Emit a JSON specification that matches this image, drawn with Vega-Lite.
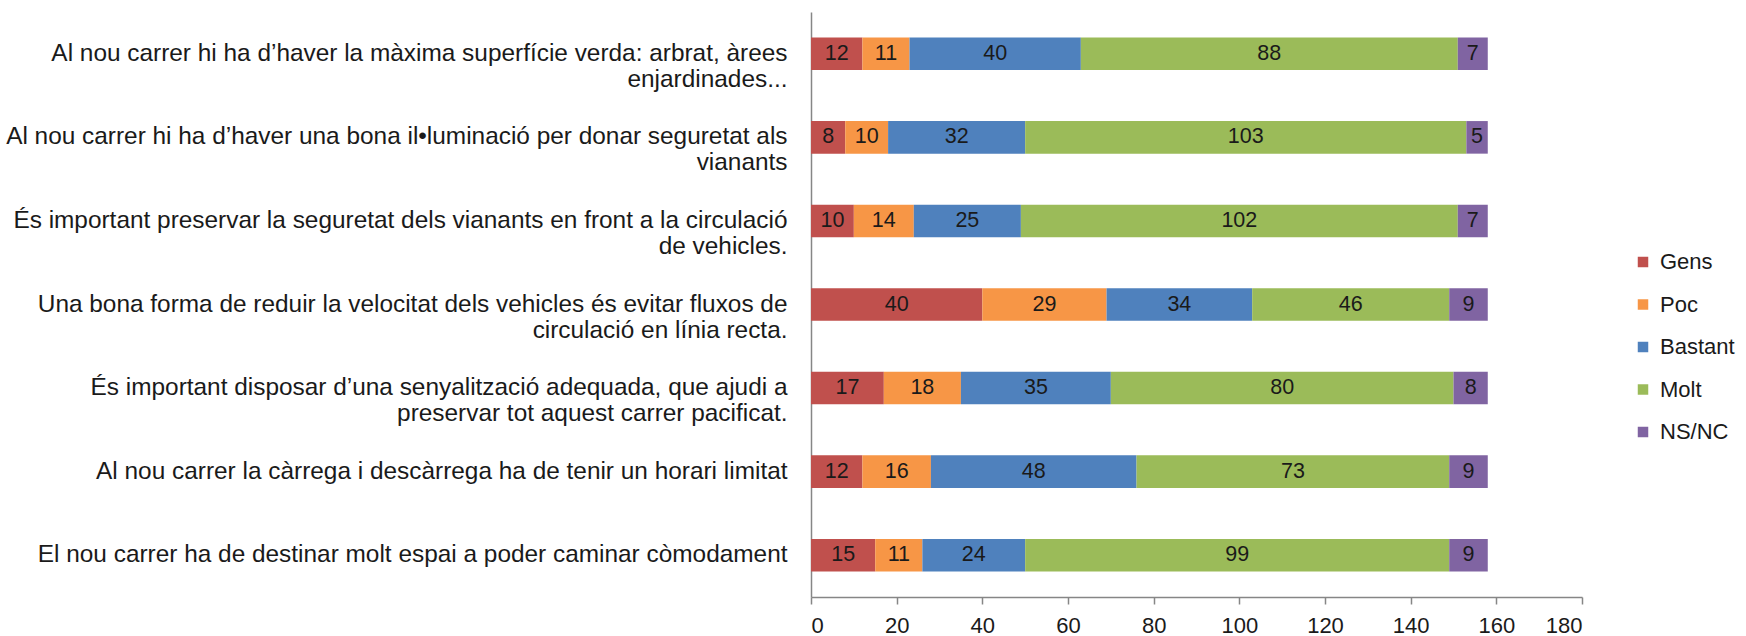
{
  "$schema": "https://vega.github.io/schema/vega-lite/v6.json",
  "width": 771,
  "height": 585,
  "autosize": "none",
  "padding": {"left": 811, "top": 12, "right": 164, "bottom": 39},
  "background": "white",
  "config": {
    "view": {"stroke": null},
    "font": "Liberation Sans, Arial, sans-serif"
  },
  "data": {
    "values": [
      {"q": "Al nou carrer hi ha d’haver la màxima superfície verda: arbrat, àrees\nenjardinades...", "cat": "Gens", "order": 1, "n": 12},
      {"q": "Al nou carrer hi ha d’haver la màxima superfície verda: arbrat, àrees\nenjardinades...", "cat": "Poc", "order": 2, "n": 11},
      {"q": "Al nou carrer hi ha d’haver la màxima superfície verda: arbrat, àrees\nenjardinades...", "cat": "Bastant", "order": 3, "n": 40},
      {"q": "Al nou carrer hi ha d’haver la màxima superfície verda: arbrat, àrees\nenjardinades...", "cat": "Molt", "order": 4, "n": 88},
      {"q": "Al nou carrer hi ha d’haver la màxima superfície verda: arbrat, àrees\nenjardinades...", "cat": "NS/NC", "order": 5, "n": 7},
      {"q": "Al nou carrer hi ha d’haver una bona il•luminació per donar seguretat als\nvianants", "cat": "Gens", "order": 1, "n": 8},
      {"q": "Al nou carrer hi ha d’haver una bona il•luminació per donar seguretat als\nvianants", "cat": "Poc", "order": 2, "n": 10},
      {"q": "Al nou carrer hi ha d’haver una bona il•luminació per donar seguretat als\nvianants", "cat": "Bastant", "order": 3, "n": 32},
      {"q": "Al nou carrer hi ha d’haver una bona il•luminació per donar seguretat als\nvianants", "cat": "Molt", "order": 4, "n": 103},
      {"q": "Al nou carrer hi ha d’haver una bona il•luminació per donar seguretat als\nvianants", "cat": "NS/NC", "order": 5, "n": 5},
      {"q": "És important preservar la seguretat dels vianants en front a la circulació\nde vehicles.", "cat": "Gens", "order": 1, "n": 10},
      {"q": "És important preservar la seguretat dels vianants en front a la circulació\nde vehicles.", "cat": "Poc", "order": 2, "n": 14},
      {"q": "És important preservar la seguretat dels vianants en front a la circulació\nde vehicles.", "cat": "Bastant", "order": 3, "n": 25},
      {"q": "És important preservar la seguretat dels vianants en front a la circulació\nde vehicles.", "cat": "Molt", "order": 4, "n": 102},
      {"q": "És important preservar la seguretat dels vianants en front a la circulació\nde vehicles.", "cat": "NS/NC", "order": 5, "n": 7},
      {"q": "Una bona forma de reduir la velocitat dels vehicles és evitar fluxos de\ncirculació en línia recta.", "cat": "Gens", "order": 1, "n": 40},
      {"q": "Una bona forma de reduir la velocitat dels vehicles és evitar fluxos de\ncirculació en línia recta.", "cat": "Poc", "order": 2, "n": 29},
      {"q": "Una bona forma de reduir la velocitat dels vehicles és evitar fluxos de\ncirculació en línia recta.", "cat": "Bastant", "order": 3, "n": 34},
      {"q": "Una bona forma de reduir la velocitat dels vehicles és evitar fluxos de\ncirculació en línia recta.", "cat": "Molt", "order": 4, "n": 46},
      {"q": "Una bona forma de reduir la velocitat dels vehicles és evitar fluxos de\ncirculació en línia recta.", "cat": "NS/NC", "order": 5, "n": 9},
      {"q": "És important disposar d’una senyalització adequada, que ajudi a\npreservar tot aquest carrer pacificat.", "cat": "Gens", "order": 1, "n": 17},
      {"q": "És important disposar d’una senyalització adequada, que ajudi a\npreservar tot aquest carrer pacificat.", "cat": "Poc", "order": 2, "n": 18},
      {"q": "És important disposar d’una senyalització adequada, que ajudi a\npreservar tot aquest carrer pacificat.", "cat": "Bastant", "order": 3, "n": 35},
      {"q": "És important disposar d’una senyalització adequada, que ajudi a\npreservar tot aquest carrer pacificat.", "cat": "Molt", "order": 4, "n": 80},
      {"q": "És important disposar d’una senyalització adequada, que ajudi a\npreservar tot aquest carrer pacificat.", "cat": "NS/NC", "order": 5, "n": 8},
      {"q": "Al nou carrer la càrrega i descàrrega ha de tenir un horari limitat", "cat": "Gens", "order": 1, "n": 12},
      {"q": "Al nou carrer la càrrega i descàrrega ha de tenir un horari limitat", "cat": "Poc", "order": 2, "n": 16},
      {"q": "Al nou carrer la càrrega i descàrrega ha de tenir un horari limitat", "cat": "Bastant", "order": 3, "n": 48},
      {"q": "Al nou carrer la càrrega i descàrrega ha de tenir un horari limitat", "cat": "Molt", "order": 4, "n": 73},
      {"q": "Al nou carrer la càrrega i descàrrega ha de tenir un horari limitat", "cat": "NS/NC", "order": 5, "n": 9},
      {"q": "El nou carrer ha de destinar molt espai a poder caminar còmodament", "cat": "Gens", "order": 1, "n": 15},
      {"q": "El nou carrer ha de destinar molt espai a poder caminar còmodament", "cat": "Poc", "order": 2, "n": 11},
      {"q": "El nou carrer ha de destinar molt espai a poder caminar còmodament", "cat": "Bastant", "order": 3, "n": 24},
      {"q": "El nou carrer ha de destinar molt espai a poder caminar còmodament", "cat": "Molt", "order": 4, "n": 99},
      {"q": "El nou carrer ha de destinar molt espai a poder caminar còmodament", "cat": "NS/NC", "order": 5, "n": 9}
    ]
  },
  "encoding": {
    "y": {
      "field": "q",
      "type": "nominal",
      "sort": null,
      "scale": {"paddingInner": 0.61, "paddingOuter": 0.305},
      "axis": {
        "title": null,
        "ticks": false,
        "domainColor": "#868686",
        "domainWidth": 1.5,
        "labelFontSize": 24.4,
        "labelColor": "#1a1a1a",
        "labelPadding": 24,
        "labelLimit": 0,
        "labelLineHeight": 26,
        "labelExpr": "split(datum.label, '\\n')"
      }
    }
  },
  "layer": [
    {
      "mark": {"type": "bar"},
      "encoding": {
        "x": {
          "field": "n",
          "type": "quantitative",
          "stack": "zero",
          "scale": {"domain": [0, 180], "nice": false},
          "axis": {
            "title": null,
            "grid": false,
            "values": [0, 20, 40, 60, 80, 100, 120, 140, 160, 180],
            "domainColor": "#868686",
            "domainWidth": 1.5,
            "tickColor": "#868686",
            "tickWidth": 1.5,
            "tickSize": 7,
            "labelFontSize": 22,
            "labelColor": "#1a1a1a",
            "labelPadding": 11
          }
        },
        "color": {
          "field": "cat",
          "type": "nominal",
          "scale": {
            "domain": ["Gens", "Poc", "Bastant", "Molt", "NS/NC"],
            "range": ["#C0504D", "#F79646", "#4F81BD", "#9BBB59", "#8064A2"]
          },
          "legend": {
            "title": null,
            "orient": "none",
            "legendX": 821,
            "legendY": 239,
            "padding": 0,
            "symbolType": "square",
            "symbolSize": 110,
            "symbolStrokeWidth": 0,
            "labelFontSize": 22,
            "labelColor": "#1a1a1a",
            "labelOffset": 6,
            "rowPadding": 20.5
          }
        },
        "order": {"field": "order", "type": "quantitative"}
      }
    },
    {
      "transform": [
        {"stack": "n", "groupby": ["q"], "sort": [{"field": "order", "order": "ascending"}], "as": ["s0", "s1"]},
        {"fold": ["s0", "s1"], "as": ["edge", "pos"]}
      ],
      "mark": {"type": "text", "fontSize": 21.5, "color": "#1a1a1a", "align": "center", "baseline": "middle"},
      "encoding": {
        "x": {"aggregate": "mean", "field": "pos", "type": "quantitative"},
        "text": {"field": "n", "type": "quantitative"},
        "detail": {"field": "cat", "type": "nominal"}
      }
    }
  ]
}
